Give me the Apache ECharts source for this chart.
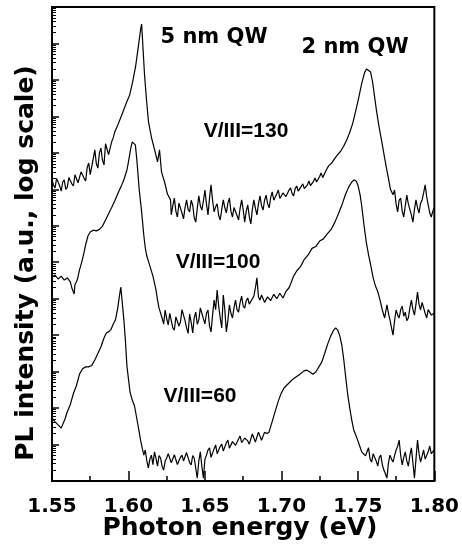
<!DOCTYPE html>
<html>
<head>
<meta charset="utf-8">
<script src="https://cdn.jsdelivr.net/npm/echarts@6/dist/echarts.min.js"></script>
<style>html,body{margin:0;padding:0;background:#fff;}#c{width:462px;height:556px;}</style>
</head>
<body>
<div id="c"></div>
<script>
// X tick labels (photon energy, eV)
const xTicks = [1.55, 1.60, 1.65, 1.70, 1.75, 1.80];
// Y decades (log scale, arbitrary units): 10^0 .. 10^13
const yDecades = [1,1e1,1e2,1e3,1e4,1e5,1e6,1e7,1e8,1e9,1e10,1e11,1e12,1e13];

// V/III = 130 : photon energy (eV) and log10 of PL intensity (a.u.)
const e130 = [
1.550,1.551,1.552,1.553,1.554,1.555,1.556,1.557,1.558,1.559,1.560,1.561,1.562,1.563,1.564,1.565,1.566,1.567,1.568,1.569,
1.570,1.571,1.572,1.573,1.574,1.575,1.576,1.577,1.578,1.579,1.580,1.581,1.582,1.583,1.584,1.585,1.586,1.587,1.588,1.589,1.590,
1.5910,1.5930,1.5949,1.5969,1.5988,1.6008,1.6027,1.6047,1.6066,1.6079,1.6086,1.6092,1.6105,1.6118,1.6131,1.6151,1.6171,1.6190,1.6203,1.6216,1.6236,1.6255,1.6275,
1.628,1.629,1.630,1.631,1.632,1.633,1.634,1.635,1.636,1.637,1.638,1.639,1.640,1.641,1.642,1.643,1.644,1.645,1.646,1.647,
1.648,1.649,1.650,1.651,1.652,1.653,1.654,1.655,1.656,1.657,1.658,1.659,1.660,1.661,1.662,1.663,1.664,1.665,1.666,1.667,
1.668,1.669,1.670,1.671,1.672,1.673,1.674,1.675,
1.676,1.677,1.678,1.679,1.680,1.681,1.682,1.683,1.684,1.685,1.686,1.687,1.688,1.689,1.690,1.691,1.692,1.693,1.694,1.695,
1.696,1.697,1.698,1.699,1.700,1.701,1.702,1.703,1.704,1.705,1.706,1.707,1.708,1.709,1.710,1.711,1.712,1.713,1.714,1.715,
1.716,1.717,1.718,1.719,1.720,1.721,1.722,1.723,1.724,1.725,1.726,1.727,1.728,1.729,1.730,1.731,
1.7329,1.7349,1.7368,1.7388,1.7407,1.7427,1.7446,1.7466,1.7486,1.7505,1.7525,1.7544,1.7557,1.7570,1.7583,1.7596,1.7609,1.7622,1.7635,1.7648,1.7661,1.7674,1.7687,1.7700,1.7713,
1.773,1.774,1.775,1.776,1.777,1.778,1.779,1.780,1.781,1.782,1.783,1.784,1.785,1.786,1.787,1.788,1.789,1.790,1.791,1.792,
1.793,1.794,1.795,1.796,1.797,1.798,1.799,1.800
];
const log130 = [
8.26,8.12,8.04,8.30,8.34,8.10,7.95,8.20,8.26,8.00,8.06,8.32,8.37,8.15,8.09,8.40,8.42,8.18,8.15,8.48,
8.53,8.30,8.23,8.60,8.72,8.40,8.37,8.85,9.08,8.70,8.58,9.00,9.13,8.80,8.67,9.25,9.22,8.95,8.94,9.30,9.41,
9.57,9.76,9.96,10.18,10.39,10.59,10.94,11.38,11.96,12.37,12.53,12.10,11.14,10.45,9.85,9.41,9.08,8.75,9.08,8.48,8.20,7.87,7.71,
7.30,7.55,7.76,7.40,7.24,7.62,7.65,7.35,7.19,7.50,7.71,7.45,7.38,7.70,7.57,7.22,7.10,7.48,7.82,7.55,
7.43,7.68,7.98,7.60,7.30,7.75,8.12,7.70,7.38,7.52,7.60,7.28,7.16,7.45,7.71,7.50,7.35,7.62,7.76,7.40,
7.24,7.50,7.54,7.28,7.16,7.48,7.71,7.45,
7.10,7.40,7.57,7.25,7.05,7.45,7.71,7.48,7.30,7.60,7.82,7.55,7.43,7.70,7.84,7.60,7.49,7.78,7.93,7.70,
7.65,7.88,7.98,7.75,7.71,7.90,7.93,7.80,7.76,7.98,8.04,7.88,7.82,8.02,8.09,7.95,7.93,8.08,8.15,8.02,
7.98,8.12,8.23,8.10,8.09,8.22,8.31,8.20,8.20,8.35,8.45,8.32,8.37,8.50,8.58,8.65,
8.72,8.85,8.95,9.05,9.18,9.35,9.55,9.80,10.15,10.50,10.90,11.20,11.30,11.34,11.22,10.95,10.55,10.15,9.80,9.50,9.20,8.88,8.58,8.30,8.00,
7.85,7.98,7.60,7.38,7.70,7.76,7.40,7.24,7.55,7.84,7.60,7.57,7.30,7.10,7.45,7.71,7.50,7.35,7.62,7.71,
7.90,8.12,7.80,7.57,7.35,7.24,7.40,7.49
];

// V/III = 100
const e100 = [
1.550,1.552,1.554,1.556,1.558,1.560,1.562,1.563,1.5645,1.565,1.5665,1.568,1.5695,1.571,1.572,1.5735,1.575,1.577,1.579,1.581,1.583,1.585,1.587,1.589,1.591,1.593,1.595,1.597,1.599,1.600,
1.6015,1.6025,1.6035,1.6045,1.6055,1.607,1.6085,1.610,1.611,1.612,1.614,1.616,1.618,1.619,1.620,
1.622,1.623,1.624,1.625,1.626,1.627,1.628,1.629,1.630,1.631,1.632,1.633,1.634,1.635,1.636,1.637,1.638,1.639,1.640,1.641,
1.642,1.643,1.644,1.645,1.646,1.647,1.648,1.649,1.650,1.651,1.652,1.653,1.654,1.655,1.656,1.657,1.658,1.659,1.660,1.661,
1.662,1.663,1.664,1.665,1.666,1.667,1.668,1.669,1.670,1.671,1.672,1.673,1.674,1.675,1.676,1.677,1.678,1.679,1.680,1.681,
1.682,1.683,1.684,1.685,1.686,1.687,1.688,1.689,1.690,1.691,1.692,1.693,1.694,1.695,1.696,1.697,1.698,1.699,1.700,1.701,
1.702,1.703,1.704,1.705,
1.706,1.708,1.710,1.7125,1.715,1.7175,1.720,1.7225,1.725,1.7275,1.730,1.7325,1.735,1.7375,1.740,1.742,1.744,1.746,1.7475,1.749,1.750,1.7515,1.7525,1.754,1.7555,1.757,1.7585,1.760,1.7615,1.763,1.7645,1.766,1.7675,
1.769,1.770,1.771,1.772,1.773,1.774,1.775,1.776,1.777,1.778,1.779,1.780,1.781,1.782,1.783,1.784,1.785,1.786,1.787,1.788,
1.789,1.790,1.791,1.792,1.793,1.794,1.795,1.796,1.797,1.798,1.799,1.800
];
const log100 = [
5.60,5.65,5.54,5.62,5.51,5.57,5.46,5.29,5.13,5.38,5.51,5.79,6.01,6.28,6.48,6.72,6.83,6.88,6.86,6.90,6.99,7.16,7.33,7.50,7.68,7.88,8.06,8.26,8.53,8.75,
9.13,9.30,9.33,9.22,8.80,8.00,7.43,6.75,6.39,6.17,5.90,5.62,5.24,4.96,4.74,
4.47,4.30,4.69,4.45,4.28,4.60,4.63,4.20,4.14,4.50,4.52,4.25,4.36,4.70,4.74,4.40,4.20,4.05,4.58,4.35,
4.06,4.48,4.63,4.30,4.42,4.75,4.80,4.45,4.31,4.60,4.69,4.25,4.09,4.55,4.96,4.70,5.24,4.80,4.47,4.20,
5.10,4.70,4.09,4.40,4.83,4.60,4.47,4.75,4.96,4.70,4.63,4.90,5.07,4.80,4.74,4.95,5.02,4.85,4.80,5.00,
5.07,5.30,5.57,5.05,4.96,5.10,5.07,4.90,4.88,5.05,5.10,4.95,4.96,5.12,5.16,5.00,4.99,5.15,5.18,5.02,
5.07,5.20,5.24,5.30,
5.40,5.62,5.76,5.88,6.08,6.20,6.38,6.43,6.58,6.64,6.78,6.90,7.10,7.35,7.62,7.87,8.06,8.20,8.26,8.22,8.12,7.84,7.55,7.02,6.55,6.20,5.90,5.57,5.35,5.20,4.96,4.69,4.47,
4.83,4.60,4.42,4.20,4.00,4.40,4.69,4.55,4.47,4.70,4.80,4.52,4.63,4.40,4.47,4.75,4.96,4.70,4.55,4.85,
5.18,4.85,4.69,4.90,4.91,4.60,4.47,4.70,4.74,4.55,4.53,4.60
];

// V/III = 60
const e60 = [
1.550,1.552,1.554,1.556,1.557,1.5585,1.560,1.562,1.564,1.566,1.568,1.570,1.572,1.574,1.576,1.578,1.580,1.582,1.584,1.5855,1.587,1.5885,1.590,1.5915,1.593,1.594,1.595,1.5955,
1.597,1.598,1.599,1.600,1.601,1.6025,1.604,1.6055,1.607,1.608,1.609,1.610,
1.611,1.612,1.613,1.614,1.615,1.616,1.617,1.618,1.619,1.620,1.621,1.622,1.623,1.624,1.625,1.626,1.627,1.628,1.629,1.630,
1.631,1.632,1.633,1.634,1.635,1.636,1.637,1.638,1.639,1.640,1.641,1.642,1.643,1.644,1.645,1.646,1.647,1.648,1.649,1.650,
1.651,1.652,1.653,1.654,1.655,1.656,1.657,1.658,1.659,1.660,1.661,1.662,1.663,1.664,1.665,1.666,1.667,1.668,1.669,1.670,
1.671,1.672,1.673,1.674,1.675,1.676,1.677,1.678,
1.679,1.681,1.683,1.685,1.687,1.689,1.6905,
1.6919,1.6939,1.6958,1.6978,1.6997,1.7017,1.7043,1.7069,1.7095,1.7121,1.7147,1.7167,1.7186,1.7206,1.7225,1.7245,1.7264,1.7284,1.7303,1.7323,1.7342,1.7355,1.7368,1.7382,1.7395,1.7408,1.7421,1.7434,1.7447,1.7460,1.7473,1.7486,1.7499,1.7512,1.7525,
1.755,1.756,1.757,1.758,1.759,1.760,1.761,1.762,1.763,1.764,1.765,1.766,1.767,1.768,1.769,1.770,1.771,1.772,1.773,1.774,
1.775,1.776,1.777,1.778,1.779,1.780,1.781,1.782,1.783,1.784,1.785,1.786,1.787,1.788,1.789,1.790,1.791,1.792,1.793,1.794,
1.795,1.796,1.797,1.798,1.799,1.800
];
const log60 = [
1.73,1.62,1.54,1.45,1.50,1.70,1.90,2.10,2.40,2.62,2.93,3.08,3.13,3.13,3.17,3.32,3.50,3.68,3.92,4.06,4.09,4.15,4.30,4.42,4.75,5.05,5.32,5.28,
4.42,3.85,3.15,2.80,2.44,2.22,2.05,1.70,1.35,1.10,0.90,0.71,
0.85,0.55,0.36,0.60,0.71,0.45,0.80,0.62,0.41,0.70,0.63,0.40,0.30,0.55,0.63,0.75,0.71,0.50,0.47,0.72,
0.69,0.45,0.41,0.65,0.71,0.55,0.52,0.78,0.80,0.50,0.44,0.70,0.63,0.35,0.08,0.55,0.80,0.40,0.08,0.60,
0.71,0.85,0.91,0.65,0.63,0.88,0.99,0.75,0.71,0.95,1.01,0.82,0.80,1.05,1.12,0.90,0.85,1.08,1.12,0.98,
0.96,1.15,1.23,1.05,1.01,1.18,1.23,1.10,
1.01,1.29,1.07,1.34,1.12,1.34,1.30,
1.34,1.62,1.89,2.17,2.39,2.55,2.66,2.77,2.85,2.93,3.02,3.04,2.99,2.93,2.99,3.13,3.26,3.51,3.76,3.98,4.14,4.20,4.14,3.98,3.73,3.32,2.83,2.36,2.00,1.67,1.40,1.26,1.12,0.96,0.80,
0.69,0.80,0.91,0.60,0.52,0.75,0.80,0.55,0.41,0.65,0.71,0.45,0.30,0.20,0.08,0.50,0.71,0.60,0.52,0.70,
0.85,0.95,1.12,0.70,0.44,0.65,0.80,0.55,0.41,0.70,0.91,0.50,0.08,0.60,1.12,0.75,0.52,0.68,0.85,0.60,
0.63,0.80,0.96,0.75,0.71,0.85
];

const seriesLabels = ['V/III=130', 'V/III=100', 'V/III=60'];
const qwLabels = ['5 nm QW', '2 nm QW'];

function pairs(es, ls) { return es.map((e, i) => [e, Math.pow(10, ls[i])]); }

const minorVals = [];
for (let d = 0; d < 13; d++) for (let k = 2; k <= 9; k++) minorVals.push(k * Math.pow(10, d));

const chart = echarts.init(document.getElementById('c'), null, {renderer: 'canvas'});
const lineStyle = {color: '#000', width: 1.2};
chart.setOption({
  animation: false,
  backgroundColor: '#fff',
  grid: {left: 52, top: 7, right: 26, bottom: 75, show: true, borderColor: '#000', borderWidth: 2, backgroundColor: 'transparent'},
  xAxis: {
    type: 'value', min: 1.55, max: 1.80, interval: 0.05,
    axisLine: {show: true, lineStyle: {color: '#000', width: 2}},
    axisTick: {show: true, inside: true, length: 10, lineStyle: {color: '#000', width: 1.5}},
    minorTick: {show: true, splitNumber: 2, length: 5, lineStyle: {color: '#000', width: 1.5}},
    axisLabel: {color: '#000', fontFamily: 'DejaVu Sans', fontWeight: 'bold', fontSize: 20, margin: 16,
      showMinLabel: true, showMaxLabel: true, formatter: v => v.toFixed(2)},
    splitLine: {show: false}
  },
  yAxis: [{
    type: 'log', logBase: 10, min: 1, max: 1e13, splitNumber: 13,
    axisLine: {show: true, lineStyle: {color: '#000', width: 2}},
    axisTick: {show: true, inside: true, length: 7, customValues: yDecades, lineStyle: {color: '#000', width: 1.5}},
    axisLabel: {show: false},
    splitLine: {show: false}
  }, {
    type: 'log', logBase: 10, min: 1, max: 1e13, position: 'left',
    axisLine: {show: false},
    axisTick: {show: true, inside: true, length: 4, customValues: minorVals, lineStyle: {color: '#000', width: 1}},
    axisLabel: {show: false},
    splitLine: {show: false}
  }],
  series: [
    {name: seriesLabels[0], type: 'line', yAxisIndex: 0, data: pairs(e130, log130), showSymbol: false, symbol: 'none', lineStyle: lineStyle},
    {name: seriesLabels[1], type: 'line', yAxisIndex: 0, data: pairs(e100, log100), showSymbol: false, symbol: 'none', lineStyle: lineStyle},
    {name: seriesLabels[2], type: 'line', yAxisIndex: 0, data: pairs(e60, log60), showSymbol: false, symbol: 'none', lineStyle: lineStyle}
  ],
  graphic: [
    {type: 'text', x: 214, y: 38, style: {text: qwLabels[0], font: 'bold 21px "DejaVu Sans"', fill: '#000', align: 'center', verticalAlign: 'middle'}},
    {type: 'text', x: 355, y: 48, style: {text: qwLabels[1], font: 'bold 21px "DejaVu Sans"', fill: '#000', align: 'center', verticalAlign: 'middle'}},
    {type: 'text', x: 246, y: 131, style: {text: seriesLabels[0], font: 'bold 21px "Liberation Sans"', fill: '#000', align: 'center', verticalAlign: 'middle'}},
    {type: 'text', x: 218, y: 262, style: {text: seriesLabels[1], font: 'bold 21px "Liberation Sans"', fill: '#000', align: 'center', verticalAlign: 'middle'}},
    {type: 'text', x: 200, y: 396, style: {text: seriesLabels[2], font: 'bold 21px "Liberation Sans"', fill: '#000', align: 'center', verticalAlign: 'middle'}},
    {type: 'text', x: 240, y: 528, style: {text: 'Photon energy (eV)', font: 'bold 25px "DejaVu Sans"', fill: '#000', align: 'center', verticalAlign: 'middle'}},
    {type: 'text', x: 26, y: 263, rotation: Math.PI / 2, style: {text: 'PL intensity (a.u., log scale)', font: 'bold 25px "DejaVu Sans"', fill: '#000', align: 'center', verticalAlign: 'middle'}}
  ]
});
</script>
</body>
</html>
